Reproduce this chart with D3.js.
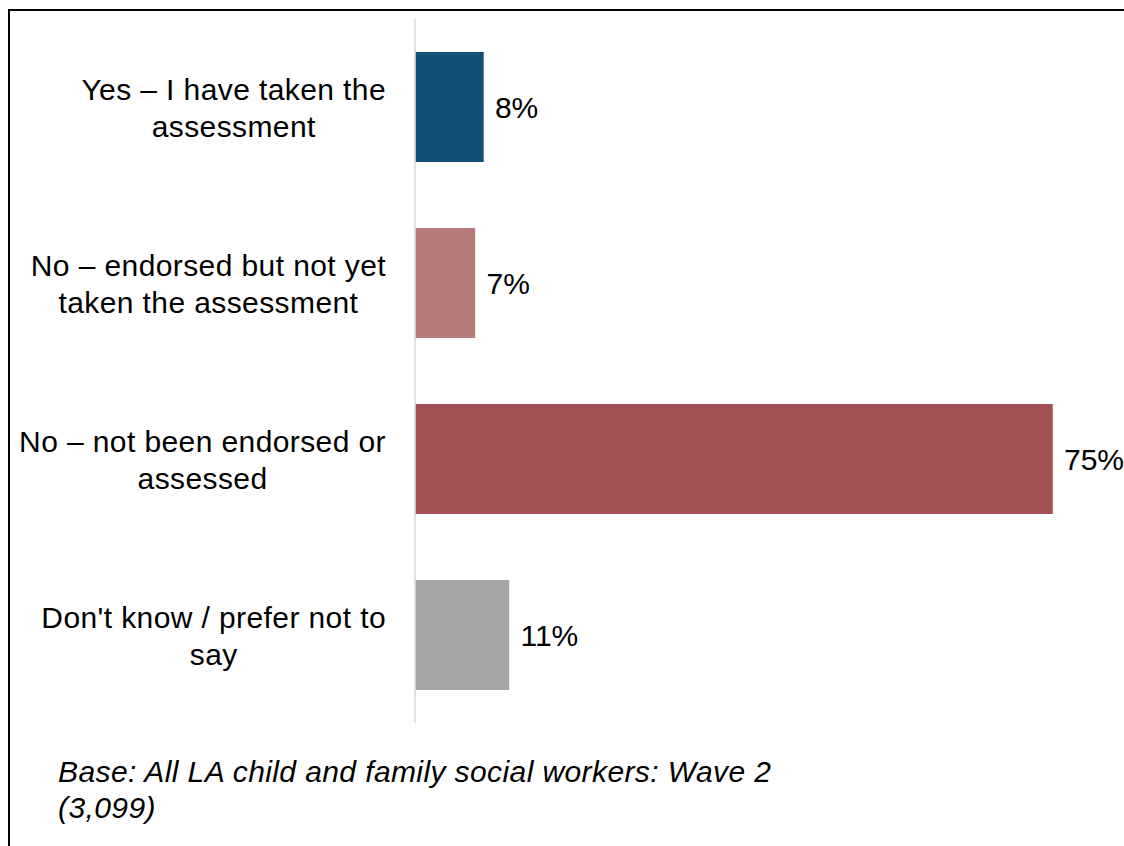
<!DOCTYPE html>
<html>
<head>
<meta charset="utf-8">
<script src="https://cdn.jsdelivr.net/npm/d3@7"></script>
<style>
  html, body { margin: 0; padding: 0; background: #fff; }
  svg { display: block; font-family: "Liberation Sans", Arial, sans-serif; }
</style>
</head>
<body>
<svg id="chart" width="1124" height="846"></svg>
<script>
const categories = [
  ["Yes – I have taken the", "assessment"],
  ["No – endorsed but not yet", "taken the assessment"],
  ["No – not been endorsed or", "assessed"],
  ["Don't know / prefer not to", "say"]
];
const values = [8, 7, 75, 11];
const valueLabels = ["8%", "7%", "75%", "11%"];
const colors = ["#124f74", "#b87b7c", "#a25255", "#a6a6a6"];
const footnote = ["Base: All LA child and family social workers: Wave 2", "(3,099)"];

const svg = d3.select("#chart");
const W = 1124, H = 846;

// frame: top and left border
svg.append("line").attr("x1", 8).attr("x2", W).attr("y1", 10).attr("y2", 10)
  .attr("stroke", "#000").attr("stroke-width", 2);
svg.append("line").attr("x1", 9).attr("x2", 9).attr("y1", 10).attr("y2", H)
  .attr("stroke", "#000").attr("stroke-width", 2);

const x0 = 415;
const x = d3.scaleLinear().domain([0, 75]).range([x0, 1052]);
const idx = d3.range(categories.length);
const y = d3.scaleBand().domain(idx).range([19, 723]).paddingInner(0.375).paddingOuter(0.1875);

// axis line
svg.append("line").attr("x1", x0).attr("x2", x0).attr("y1", 19).attr("y2", 723)
  .attr("stroke", "#d9d9d9").attr("stroke-width", 1.5);

svg.selectAll("rect.bar").data(idx).join("rect")
  .attr("class", "bar")
  .attr("x", x0 + 0.75)
  .attr("y", i => y(i))
  .attr("width", i => x(values[i]) - x0)
  .attr("height", y.bandwidth())
  .attr("fill", i => colors[i]);

const fs = 30, lh = 36.7, rightEdge = 386;

svg.selectAll("text.val").data(idx).join("text")
  .attr("class", "val")
  .attr("x", i => x(values[i]) + 12)
  .attr("y", i => y(i) + y.bandwidth() / 2)
  .attr("dy", "0.35em")
  .attr("font-size", fs)
  .attr("fill", "#000")
  .text(i => valueLabels[i]);

idx.forEach(i => {
  const g = svg.append("g");
  const cy = y(i) + y.bandwidth() / 2 + 1;
  const lines = categories[i];
  const ts = lines.map((t, k) => g.append("text")
    .attr("font-size", fs)
    .attr("letter-spacing", "0.4px")
    .attr("fill", "#000")
    .attr("text-anchor", "middle")
    .attr("y", cy + (k - (lines.length - 1) / 2) * lh)
    .attr("dy", "0.35em")
    .text(t));
  const maxW = d3.max(ts, t => t.node().getComputedTextLength());
  ts.forEach(t => t.attr("x", rightEdge - maxW / 2));
});

svg.selectAll("text.foot").data(footnote).join("text")
  .attr("class", "foot")
  .attr("x", 58)
  .attr("y", (d, k) => 782 + k * 36)
  .attr("font-size", 30)
  .attr("letter-spacing", "0.4px")
  .attr("font-style", "italic")
  .attr("fill", "#000")
  .text(d => d);
</script>
</body>
</html>
